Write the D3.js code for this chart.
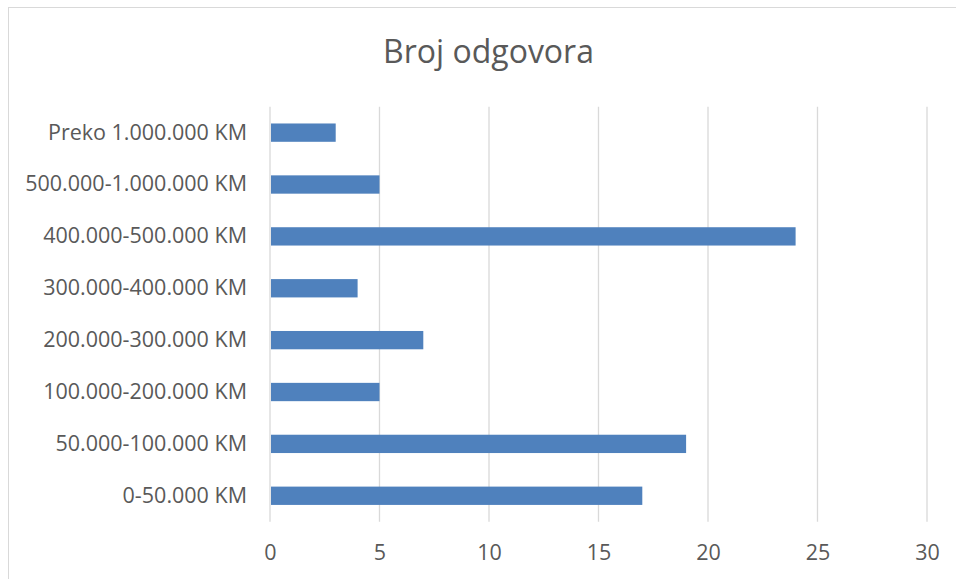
<!DOCTYPE html>
<html>
<head>
<meta charset="utf-8">
<script src="https://cdn.jsdelivr.net/npm/d3@7"></script>
<style>
  html, body { margin: 0; padding: 0; background: #fff; }
  svg { display: block; }
  text { font-family: "Open Sans", sans-serif; fill: #595959; }
</style>
</head>
<body>
<svg id="chart" width="956" height="579"></svg>
<script>
const title = "Broj odgovora";
const categories = [
  "Preko 1.000.000 KM",
  "500.000-1.000.000 KM",
  "400.000-500.000 KM",
  "300.000-400.000 KM",
  "200.000-300.000 KM",
  "100.000-200.000 KM",
  "50.000-100.000 KM",
  "0-50.000 KM"
];
const values = [3, 5, 24, 4, 7, 5, 19, 17];
const xTicks = [0, 5, 10, 15, 20, 25, 30];

const svg = d3.select("#chart");
const W = 956, H = 579;
const margin = { left: 270, right: 29, top: 106.7, bottom: 57.3 };
const labelFont = "21.5px";

// outer chart border (left and top visible, image cropped at right/bottom)
svg.append("rect")
  .attr("x", 8.5).attr("y", 7.5)
  .attr("width", W + 10).attr("height", H + 10)
  .attr("fill", "none").attr("stroke", "#d9d9d9").attr("stroke-width", 1);

const x = d3.scaleLinear().domain([0, 30]).range([margin.left, W - margin.right]);
const y = d3.scaleBand().domain(categories)
  .range([margin.top, H - margin.bottom]).paddingInner(0.647).paddingOuter(0.3235);

// gridlines
svg.append("g").selectAll("line").data(xTicks).join("line")
  .attr("x1", d => x(d)).attr("x2", d => x(d))
  .attr("y1", margin.top).attr("y2", H - margin.bottom)
  .attr("stroke", "#d9d9d9").attr("stroke-width", 1.3);

// bars
svg.append("g").selectAll("rect").data(values).join("rect")
  .attr("x", x(0) + 1)
  .attr("y", (d, i) => y(categories[i]))
  .attr("width", d => x(d) - x(0) - 1)
  .attr("height", y.bandwidth())
  .attr("fill", "#4f81bd");

// x axis labels
const xAxis = d3.axisBottom(x).tickValues(xTicks).tickSize(0).tickPadding(0);
const gx = svg.append("g").attr("transform", `translate(0,${H - margin.bottom})`).call(xAxis);
gx.select(".domain").remove();
gx.selectAll("text").attr("y", 0).attr("dy", null)
  .attr("transform", "translate(0,38.5)")
  .style("font-size", labelFont).style("font-family", "'Open Sans', sans-serif").attr("fill", "#595959");

// y axis labels
const yAxis = d3.axisLeft(y).tickSize(0).tickPadding(23);
const gy = svg.append("g").attr("transform", `translate(${margin.left},0)`).call(yAxis);
gy.select(".domain").remove();
gy.selectAll("text")
  .style("font-size", labelFont).style("font-family", "'Open Sans', sans-serif").attr("fill", "#595959");

// title
svg.append("text")
  .attr("x", 488.5).attr("y", 63)
  .attr("text-anchor", "middle")
  .style("font-size", "32px")
  .text(title);
</script>
</body>
</html>
